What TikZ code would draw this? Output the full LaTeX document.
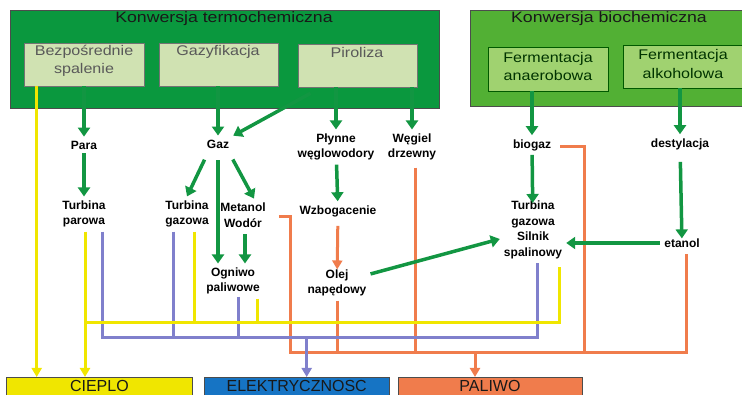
\documentclass[tikz,border=0pt]{standalone}
\usepackage{fontspec}
\setmainfont{Liberation Sans}
\newfontfamily\widefont[FakeStretch=1.15]{Liberation Sans}
\newfontfamily\titlefont[FakeStretch=1.18]{Liberation Sans}
\usepackage{tikz}
\usetikzlibrary{positioning, arrows.meta, calc}
\definecolor{termocol}{RGB}{10,152,62}
\definecolor{biocol}{RGB}{82,176,52}
\definecolor{termoin}{RGB}{208,226,178}
\definecolor{bioin}{RGB}{160,210,112}
\definecolor{garr}{RGB}{18,150,66}
\definecolor{yel}{RGB}{240,230,0}
\definecolor{pur}{RGB}{128,128,204}
\definecolor{ora}{RGB}{240,124,76}
\definecolor{elekcol}{RGB}{22,116,196}

\begin{document}
\begin{tikzpicture}[x=1pt, y=-1pt,
	bigbox/.style={draw=black!70, line width=0.8pt, inner sep=0pt},
	inbox/.style={draw=black!55, line width=0.6pt, inner sep=0pt},
	titletext/.style={font=\titlefont\fontsize{15}{18}\selectfont, text=black!90, inner sep=0pt},
	intext/.style={font=\widefont\fontsize{14}{18}\selectfont, align=center, inner sep=0pt},
	lbl/.style={font=\bfseries\fontsize{12}{15.5}\selectfont, align=center, inner sep=4pt},
	outbox/.style={draw=black!70, line width=0.8pt, minimum height=22pt, inner sep=0pt, text depth=5pt, font=\fontsize{16}{18}\selectfont, text=black!90},
	garrow/.style={draw=garr, line width=3.5pt, -{Triangle[length=9pt,width=12pt]}},
	yline/.style={draw=yel, line width=3pt},
	pline/.style={draw=pur, line width=3pt},
	oline/.style={draw=ora, line width=3pt},
	yarrow/.style={yline, -{Triangle[length=9pt,width=10pt]}},
	parrow/.style={pline, -{Triangle[length=9pt,width=10pt]}},
	oarrow/.style={oline, -{Triangle[length=9pt,width=10pt]}}]
	\useasboundingbox (0,0) rectangle (742,395);

	\node[bigbox, fill=termocol, minimum width=429pt, minimum height=98pt] (termo) at (224.5,59) {};
	\node[bigbox, fill=biocol, minimum width=290pt, minimum height=96pt] (bio) at (615,58) {};
	\node[titletext] (termot) at (224,19) {Konwersja termochemiczna};
	\node[titletext] (biot) at (609,19) {Konwersja biochemiczna};

	\node[inbox, fill=termoin, minimum width=120pt, minimum height=43pt] (spal) at (84,64.5) {};
	\node[inbox, fill=termoin, minimum width=119pt, minimum height=43pt] (gazy) at (218.5,64.5) {};
	\node[inbox, fill=termoin, minimum width=119pt, minimum height=43pt] (piro) at (357.5,65.5) {};
	\node[inbox, draw=green!35!black, fill=bioin, minimum width=120pt, minimum height=44pt] (ferm1) at (548,69) {};
	\node[inbox, draw=green!35!black, fill=bioin, minimum width=122pt, minimum height=43pt] (ferm2) at (684,66.5) {};
	\node[intext, text=black!65] (spalt) at (84,61) {Bezpośrednie\\spalenie};
	\node[intext, text=black!65] (gazyt) at (218,52) {Gazyfikacja};
	\node[intext, text=black!65] (pirot) at (357,52) {Piroliza};
	\node[intext, text=green!20!black] (ferm1t) at (548,66) {Fermentacja\\anaerobowa};
	\node[intext, text=green!20!black] (ferm2t) at (683,64) {Fermentacja\\alkoholowa};

	\node[lbl] (para) at (84,145) {Para};
	\node[lbl] (tpar) at (84,214) {Turbina\\parowa};
	\node[lbl] (gaz) at (218,144) {Gaz};
	\node[lbl] (tgaz) at (187,214) {Turbina\\gazowa};
	\node[lbl] (meta) at (243,215) {Metanol\\Wodór};
	\node[lbl] (ogn) at (233,281) {Ogniwo\\paliwowe};
	\node[lbl] (plyn) at (336,147) {Płynne\\węglowodory};
	\node[lbl] (wegl) at (412,147) {Węgiel\\drzewny};
	\node[lbl] (wzbo) at (338,211) {Wzbogacenie};
	\node[lbl] (olej) at (337,283) {Olej\\napędowy};
	\node[lbl] (biog) at (532,145) {biogaz};
	\node[lbl] (silnik) at (533,230) {Turbina\\gazowa\\Silnik\\spalinowy};
	\node[lbl] (dest) at (680,144) {destylacja};
	\node[lbl] (etan) at (682,243) {etanol};

	\node[outbox, fill=yel, minimum width=186pt, anchor=north west] (cieplo) at (6,377) {CIEPLO};
	\node[outbox, fill=elekcol, minimum width=185pt, right=11pt of cieplo] (elek) {ELEKTRYCZNOSC};
	\node[outbox, fill=ora, minimum width=184pt, right=8pt of elek] (paliwo) {PALIWO};

	\coordinate (ybus) at (0,323);
	\coordinate (pbus) at (0,338);
	\coordinate (obus) at (0,353);

	\coordinate (oa) at ($(meta.east)+(9,2)$);
	\coordinate (ob) at ($(oa)+(12,0)$);
	\coordinate (oc) at ($(wegl.south)+(3,3)$);
	\coordinate (od) at (olej.south);
	\coordinate (oe) at ($(biog.east)+(5,2)$);
	\coordinate (of) at ($(oe)+(24,0)$);
	\coordinate (og) at ($(etan.south)+(4,2)$);
	\coordinate (oh) at ($(paliwo.north)+(-15,0)$);
	\draw[oline] (oa) -- (ob) -- (ob |- obus) -- (og |- obus) -- (og);
	\draw[oline] (oc) -- (oc |- obus);
	\draw[oline] (od) -- (od |- obus);
	\draw[oline] (oe) -- (of) -- (of |- obus);
	\draw[oarrow] (oh |- obus) -- (oh);

	\coordinate (pa) at ($(tpar.south)+(18,0)$);
	\coordinate (pb) at ($(tgaz.south)+(-14,0)$);
	\coordinate (pc) at ($(ogn.south)+(5,-2)$);
	\coordinate (pd) at ($(silnik.south)+(4,0)$);
	\coordinate (pe) at ($(elek.north)+(10,0)$);
	\draw[pline] (pa) -- (pa |- pbus) -- (pd |- pbus) -- (pd);
	\draw[pline] (pb) -- (pb |- pbus);
	\draw[pline] (pc) -- (pc |- pbus);
	\draw[parrow] (pe |- pbus) -- (pe);

	\coordinate (ya) at ($(spal.south west)+(13,0)$);
	\coordinate (yb) at ($(tpar.south)+(1,0)$);
	\coordinate (yc) at ($(tgaz.south)+(7,0)$);
	\coordinate (yd) at ($(ogn.south)+(24,0)$);
	\coordinate (ye) at ($(silnik.south)+(26,4)$);
	\draw[yarrow] (ya) -- (ya |- cieplo.north);
	\draw[yarrow] (yb) -- (yb |- cieplo.north);
	\draw[yline] (ye) -- (ye |- ybus) -- (yb |- ybus);
	\draw[yline] (yc) -- (yc |- ybus);
	\draw[yline] (yd) -- (yd |- ybus);

	\coordinate (mw) at ($(meta.south)+(2,0)$);
	\draw[garrow] (spal.south -| para) -- (para);
	\draw[garrow] (para) -- (tpar);
	\draw[garrow] (gazy.south -| gaz) -- (gaz);
	\draw[garrow] ($(piro.south)+(-47,6)$) -- (gaz);
	\draw[garrow, shorten <=8pt] ($(gaz.south)+(-10,0)$) -- (tgaz.north);
	\draw[garrow, shorten <=8pt] (gaz.south) -- (gaz.south |- ogn.north);
	\draw[garrow, shorten <=8pt] ($(gaz.south)+(11,0)$) -- ($(meta.north)+(11,0)$);
	\draw[garrow, shorten <=3pt] (mw) -- (mw |- ogn.north);
	\draw[garrow] (piro.south -| plyn) -- (plyn);
	\draw[garrow] (piro.south -| wegl) -- (wegl);
	\draw[garrow] (plyn) -- (wzbo);
	\draw[oarrow, shorten <=5pt, shorten >=-4pt] (wzbo) -- (olej);
	\draw[garrow] (olej) -- (silnik);
	\draw[garrow] (ferm1.south -| biog) -- (biog);
	\draw[garrow, shorten >=-6pt] (biog) -- (silnik);
	\draw[garrow] (ferm2.south -| dest) -- (dest);
	\draw[garrow, shorten <=8pt, shorten >=-4pt] (dest) -- (etan);
	\draw[garrow] (etan.west) -- (etan.west -| silnik.east);
\end{tikzpicture}
\end{document}
